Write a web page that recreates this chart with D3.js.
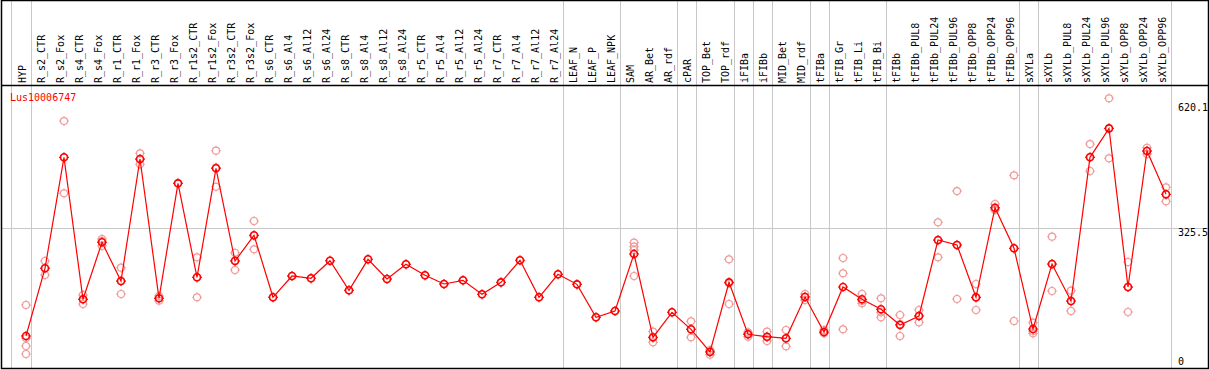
<!DOCTYPE html>
<html lang="en">
<head>
  <meta charset="UTF-8">
  <title>Lus10006747</title>
  <style>
    body { margin: 0; background: #fff; }
    text { font-family: "DejaVu Sans Mono", monospace; font-size: 10px; }
  </style>
</head>
<body>
  <svg width="1209" height="370" class="svgs"></svg>
  <script src="https://cdn.jsdelivr.net/npm/d3@7/dist/d3.min.js"></script>
  <script>
    const geneName = 'Lus10006747'

    const categories = [
      'HYP', 'R_s2_CTR', 'R_s2_Fox', 'R_s4_CTR', 'R_s4_Fox', 'R_r1_CTR', 'R_r1_Fox',
      'R_r3_CTR', 'R_r3_Fox', 'R_r1s2_CTR', 'R_r1s2_Fox', 'R_r3s2_CTR', 'R_r3s2_Fox',
      'R_s6_CTR', 'R_s6_Al4', 'R_s6_Al12', 'R_s6_Al24', 'R_s8_CTR', 'R_s8_Al4', 'R_s8_Al12',
      'R_s8_Al24', 'R_r5_CTR', 'R_r5_Al4', 'R_r5_Al12', 'R_r5_Al24', 'R_r7_CTR', 'R_r7_Al4',
      'R_r7_Al12', 'R_r7_Al24', 'LEAF_N', 'LEAF_P', 'LEAF_NPK', 'SAM', 'AR_Bet', 'AR_rdf',
      'cPAR', 'TOP_Bet', 'TOP_rdf', 'iFIBa', 'iFIBb', 'MID_Bet', 'MID_rdf', 'tFIBa',
      'tFIB_Gr', 'tFIB_Li', 'tFIB_Bi', 'tFIBb', 'tFIBb_PUL8', 'tFIBb_PUL24', 'tFIBb_PUL96',
      'tFIBb_OPP8', 'tFIBb_OPP24', 'tFIBb_OPP96', 'sXYLa', 'sXYLb', 'sXYLb_PUL8',
      'sXYLb_PUL24', 'sXYLb_PUL96', 'sXYLb_OPP8', 'sXYLb_OPP24', 'sXYLb_OPP96'
    ]

    // mean expression per sample
    const means = [
      72.2, 231.4, 492.4, 158.5, 292.5, 201.5, 488.4,
      160.8, 431.2, 210.2, 466.5, 248.5, 309.0,
      163.2, 213.3, 207.9, 249.2, 179.6, 252.5, 206.2,
      240.8, 214.9, 194.5, 203.2, 170.2, 198.4, 250.2,
      163.2, 217.3, 193.7, 116.2, 131.0, 265.0, 69.1, 128.0,
      87.9, 34.6, 198.4, 76.2, 70.5, 66.8, 163.9, 81.6,
      187.4, 158.5, 135.0, 98.0, 119.2, 297.9, 286.2,
      163.2, 373.9, 278.4, 88.6, 241.5, 154.5,
      492.4, 560.5, 187.4, 507.2, 405.4
    ]

    // individual replicates per sample
    const replicates = [
      [145.1, 67.5, 48.7, 29.9], [248.5, 215.6, 232.0], [577.7, 407.7, 491.8], [168.6, 147.4, 159.0],
      [300.3, 295.6, 284.0], [232.8, 170.9, 200.8], [501.8, 475.9, 487.0],
      [166.2, 155.2, 161.0], [431.2], [257.2, 163.2, 210.0], [507.9, 423.2, 468.0],
      [268.0, 227.4, 250.0], [342.6, 276.0, 308.0],
      [163.2], [213.3], [207.9], [249.2], [179.6], [252.5], [206.2],
      [240.8], [214.9], [194.5], [203.2], [170.2], [198.4], [250.2],
      [163.2], [217.3], [193.7], [116.2], [131.0],
      [291.6, 282.2, 274.4, 213.3], [82.3, 57.4, 68.0], [128.0],
      [106.7, 69.1, 88.0], [39.3, 28.2, 36.0], [252.5, 147.4, 196.0],
      [80.9, 70.5, 77.0], [82.3, 60.4, 69.0], [86.3, 48.0, 66.0], [170.9, 156.8, 164.0],
      [86.3, 79.2, 79.0], [255.6, 219.6, 87.9], [170.9, 149.1, 155.0], [160.8, 116.2, 128.0],
      [121.6, 72.2, 100.0], [133.3, 104.4, 120.0], [339.5, 257.2, 297.0], [413.1, 159.2, 286.0],
      [194.5, 133.3, 162.0], [382.6, 368.5, 371.0], [450.0, 107.5, 278.0],
      [103.5, 78.5, 84.0], [305.7, 178.0, 241.0], [178.7, 131.0, 154.0],
      [523.6, 460.2, 493.0], [631.1, 490.0, 560.0], [246.2, 128.6, 187.0],
      [514.9, 500.1, 507.0], [421.8, 388.9, 405.0]
    ]

    // group separators are drawn after these samples
    const groupEnds = ['HYP', 'R_r7_Al24', 'LEAF_NPK', 'AR_rdf', 'cPAR', 'TOP_rdf', 'iFIBa',
      'iFIBb', 'MID_rdf', 'tFIBa', 'tFIB_Bi', 'tFIBb_OPP96', 'sXYLa', 'sXYLb_OPP96']

    const yTicks = [0, 325.5, 620.1]

    const svg = d3.select('.svgs')
    const W = +svg.attr('width')
    const H = +svg.attr('height')
    const frame = { left: 1, right: 1208, top: 0, bottom: 368, header: 85 }

    const x = d3.scalePoint().domain(categories).range([26, 1166])
    const y = d3.scaleLinear().domain([0, 620.1]).range([366.7, 103])

    // vertical group separators
    const sepX = [x(categories[0]) - 15.3].concat(groupEnds.map(c => x(c) + 4.5))
    svg.selectAll('.sep').data(sepX).join('line')
      .attr('class', 'sep')
      .attr('x1', d => Math.round(d) + 0.5).attr('x2', d => Math.round(d) + 0.5)
      .attr('y1', frame.top).attr('y2', frame.bottom)
      .attr('stroke', '#c8c8c8').attr('stroke-width', 1)

    // horizontal grid at middle tick
    svg.append('line')
      .attr('x1', frame.left).attr('x2', frame.right)
      .attr('y1', Math.round(y(325.5)) + 0.5).attr('y2', Math.round(y(325.5)) + 0.5)
      .attr('stroke', '#c8c8c8')

    // frame
    svg.append('rect')
      .attr('x', frame.left + 0.5).attr('y', frame.top + 0.5)
      .attr('width', frame.right - frame.left).attr('height', frame.bottom - frame.top)
      .attr('fill', 'none').attr('stroke', '#000').attr('stroke-width', 1.5)
    svg.append('line')
      .attr('x1', frame.left).attr('x2', frame.right)
      .attr('y1', frame.header + 0.5).attr('y2', frame.header + 0.5)
      .attr('stroke', '#000').attr('stroke-width', 1.5)

    // sample labels (rotated)
    svg.selectAll('.lab').data(categories).join('text')
      .attr('class', 'lab')
      .attr('transform', d => `translate(${x(d) - 0.5}, 83) rotate(-90)`)
      .attr('fill', '#000')
      .text(d => d)

    // y tick labels on the right
    svg.selectAll('.ytick').data(yTicks).join('text')
      .attr('class', 'ytick')
      .attr('x', 1178)
      .attr('y', d => d === 0 ? y(d) - 1.5 : y(d) + 8)
      .attr('fill', '#000')
      .text(d => d)

    // gene name
    svg.append('text')
      .attr('x', 10).attr('y', 100.5)
      .attr('fill', 'red')
      .text(geneName)

    function marker(g, cx, cy, color, sw) {
      g.append('circle').attr('cx', cx).attr('cy', cy).attr('r', 3.5)
        .attr('fill', 'none').attr('stroke', color).attr('stroke-width', sw)
      ;[[0, -1], [0, 1], [-1, 0], [1, 0]].forEach(([dx, dy]) => {
        g.append('line')
          .attr('x1', cx + dx * 3.5).attr('y1', cy + dy * 3.5)
          .attr('x2', cx + dx * 5).attr('y2', cy + dy * 5)
          .attr('stroke', color).attr('stroke-width', 1)
      })
    }

    // replicate points
    const gRep = svg.append('g')
    categories.forEach((c, i) => {
      replicates[i].forEach(v => marker(gRep, x(c), y(v), '#f09a9a', 1.2))
    })

    // mean line
    const line = d3.line().x((d, i) => x(categories[i])).y(d => y(d))
    svg.append('path')
      .datum(means)
      .attr('d', line)
      .attr('fill', 'none')
      .attr('stroke', 'red')
      .attr('stroke-width', 1.2)

    const gMean = svg.append('g')
    categories.forEach((c, i) => marker(gMean, x(c), y(means[i]), 'red', 1.6))
  </script>
</body>
</html>
